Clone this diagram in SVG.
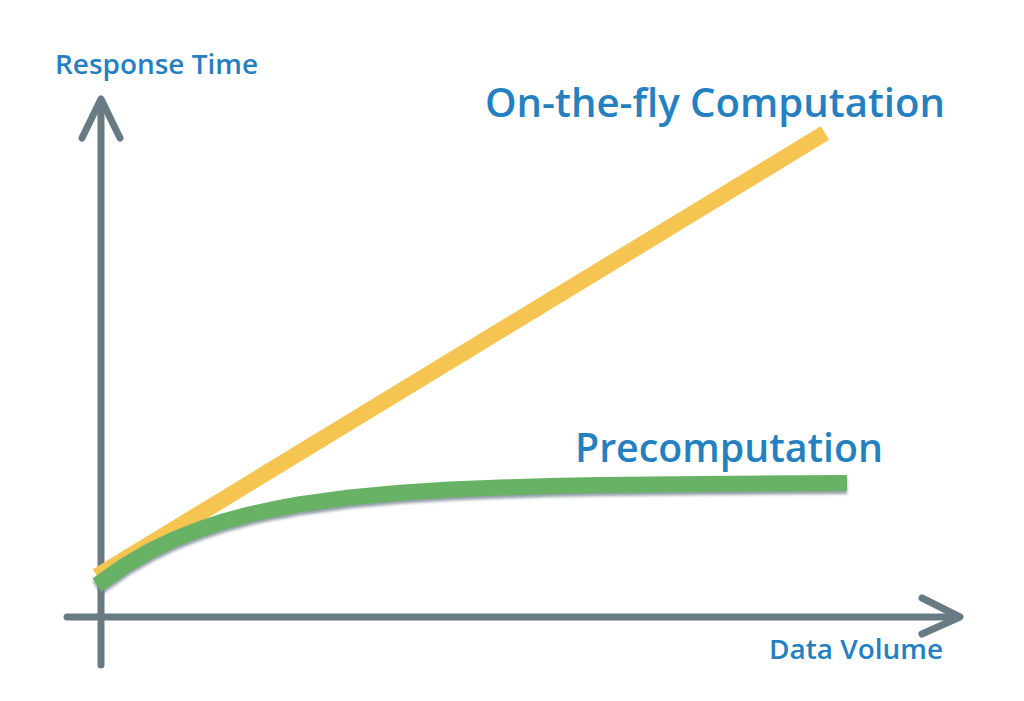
<svg xmlns="http://www.w3.org/2000/svg" width="1024" height="701" viewBox="0 0 1024 701">
  <style>
    .axis { stroke: #687b83; stroke-width: 7; fill: none; stroke-linecap: round; stroke-linejoin: round; }
    .lbl { font-family: "Open Sans", "Liberation Sans", sans-serif; fill: #2580c0; font-weight: 600; }
    .small { font-size: 27px; }
    .big { font-size: 39px; }
  </style>
  <defs>
    <filter id="shadow" x="-5%" y="-30%" width="110%" height="160%">
      <feDropShadow dx="0" dy="3" stdDeviation="1.5" flood-color="#6d7f88" flood-opacity="0.75"/>
    </filter>
  </defs>
  <rect width="1024" height="701" fill="#ffffff"/>
  <g id="axes">
    <line class="axis" x1="101" y1="101" x2="101" y2="665" stroke-linecap="butt"/>
    <polyline class="axis" points="82,138 101,99 120,138"/>
    <line class="axis" x1="67" y1="617" x2="957" y2="617" stroke-linecap="butt"/>
    <polyline class="axis" points="922,598 960,617 922,634"/>
  </g>
  <g id="curves">
    <g id="on-the-fly-line">
      <line x1="97" y1="576" x2="825" y2="133" stroke="#f5c451" stroke-width="16"/>
    </g>
    <g id="precomputation-curve">
      <polyline filter="url(#shadow)" fill="none" stroke="#67b266" stroke-width="16" stroke-linejoin="round"
        points="97,585 100,583 125,565.4 150,550.9 175,538.9 200,529.1 225,520.9 250,514.3 275,508.8 300,504.2 350,497.4 400,492.8 450,489.6 500,487.5 550,486.1 600,485.1 700,484 847,483"/>
    </g>
  </g>
  <g id="labels">
    <text class="lbl small" x="55" y="74" textLength="203" lengthAdjust="spacingAndGlyphs">Response Time</text>
    <text class="lbl big" x="485" y="117" textLength="460" lengthAdjust="spacingAndGlyphs">On-the-fly Computation</text>
    <text class="lbl big" x="575" y="462" textLength="308" lengthAdjust="spacingAndGlyphs">Precomputation</text>
    <text class="lbl small" x="769" y="659" textLength="174" lengthAdjust="spacingAndGlyphs">Data Volume</text>
  </g>
</svg>
